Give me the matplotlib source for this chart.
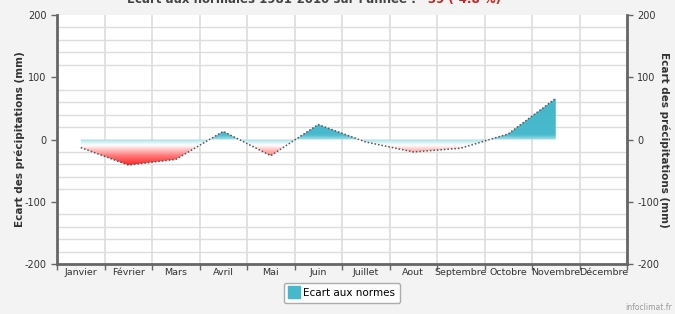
import numpy as np
import matplotlib.pyplot as plt
from matplotlib.colors import LinearSegmentedColormap, Normalize
from matplotlib.patches import Polygon
from matplotlib.lines import Line2D

plt.rcParams["axes.unicode_minus"] = False

months = ["Janvier", "Février", "Mars", "Avril", "Mai", "Juin", "Juillet",
          "Aout", "Septembre", "Octobre", "Novembre", "Décembre"]
# ecart aux normes (mm), Décembre absent
ecart = [-13, -41, -32, 13, -26, 24, -4, -20, -14, 9, 66]

title_left = "Ecart aux normales 1981-2010 sur l'année : "
title_right = "-39 (-4.8 %)"
ylabel = "Ecart des précipitations (mm)"

grid_c = "#dddddd"
axis_c = "#666666"
text_c = "#333333"

fig = plt.figure(figsize=(6.75, 3.14), dpi=100)
fig.patch.set_facecolor("#f3f3f3")
ax = fig.add_axes([57 / 675, 1 - 264 / 314, 570 / 675, 249 / 314])
ax.set_facecolor("white")

x = np.arange(len(ecart))
ax.set_xlim(-0.5, 11.5)
ax.set_ylim(-200, 200)

# gradient fill, clipped to the area between line and zero
nodes = [(-200, "#ff1f1f"), (-42, "#ff1f1f"), (-25, "#ff8080"),
         (-9, "#ffffff"), (-3, "#c4eaf0"), (0, "#a8dfe9"), (8, "#49b9cd"),
         (200, "#3cb2c6")]
cmap = LinearSegmentedColormap.from_list(
    "ecart", [((v + 200) / 400, c) for v, c in nodes])
grad = np.linspace(-200, 200, 800).reshape(-1, 1)
im = ax.imshow(grad, cmap=cmap, norm=Normalize(-200, 200), origin="lower",
               extent=[-0.5, 11.5, -200, 200], aspect="auto", zorder=2)
verts = [(x[0], 0)] + list(zip(x, ecart)) + [(x[-1], 0)]
poly = Polygon(verts, closed=True, facecolor="none", edgecolor="none",
               transform=ax.transData)
ax.add_patch(poly)
im.set_clip_path(poly)

ax.plot(x, ecart, ls=(0, (1, 1.3)), color="#555555", lw=1.1, zorder=3)

# axes, ticks, grid
ax.set_xticks(np.arange(-0.5, 12, 1))
ax.set_xticklabels([])
ax.set_xticks(x.tolist() + [11], minor=True)
ax.set_xticklabels(months, minor=True)
ax.tick_params(axis="x", which="minor", length=0, labelsize=6.8,
               labelcolor=text_c, pad=3)
ax.tick_params(axis="x", which="major", length=4, color=axis_c, width=1)
ax.set_yticks([-200, -100, 0, 100, 200])
ax.set_yticks(np.arange(-200, 201, 20), minor=True)
ax.tick_params(axis="y", which="major", length=4, color=axis_c, width=1,
               labelsize=7, labelcolor=text_c)
ax.tick_params(axis="y", which="minor", length=0)
ax.grid(True, axis="x", which="major", color=grid_c, lw=1.2, zorder=0)
ax.grid(True, axis="y", which="minor", color=grid_c, lw=1, zorder=0)
ax.set_axisbelow(True)
for side in ["left", "right", "bottom"]:
    ax.spines[side].set_color(axis_c)
    ax.spines[side].set_linewidth(2)
ax.spines["top"].set_visible(False)
ax.set_ylabel(ylabel, fontsize=7.5, fontweight="bold", color=text_c,
              labelpad=0)

ax2 = ax.twinx()
ax2.set_ylim(-200, 200)
ax2.set_yticks([-200, -100, 0, 100, 200])
ax2.tick_params(axis="y", length=4, color=axis_c, width=1, labelsize=7,
                labelcolor=text_c)
for s in ax2.spines.values():
    s.set_visible(False)
ax2.set_ylabel(ylabel, fontsize=7.5, fontweight="bold", color=text_c,
               rotation=270, labelpad=7)

# title (cut off at top of the image, as in the reference)
fig.text(420 / 675, 1 - 6 / 314, title_left, ha="right", va="bottom",
         fontsize=8.5, fontweight="bold", color="#444444")
fig.text(423 / 675, 1 - 6 / 314, title_right, ha="left", va="bottom",
         fontsize=8.5, fontweight="bold", color="#cc2222")

# legend
handle = Line2D([], [], marker="s", ls="none", markersize=9,
                markerfacecolor="#45b8cc", markeredgecolor="#45b8cc")
leg = fig.legend([handle], ["Ecart aux normes"], loc="center",
                 bbox_to_anchor=(342 / 675, 1 - 293 / 314), fontsize=7.5,
                 frameon=True, fancybox=True, edgecolor="#999999",
                 facecolor="white", handletextpad=0.3, borderpad=0.5,
                 handlelength=1.0)
leg.get_frame().set_linewidth(1)

fig.text(672 / 675, 2 / 314, "infoclimat.fr", ha="right", va="bottom",
         fontsize=5.5, color="#999999")

fig.savefig("out.png", dpi=100, facecolor=fig.get_facecolor())
